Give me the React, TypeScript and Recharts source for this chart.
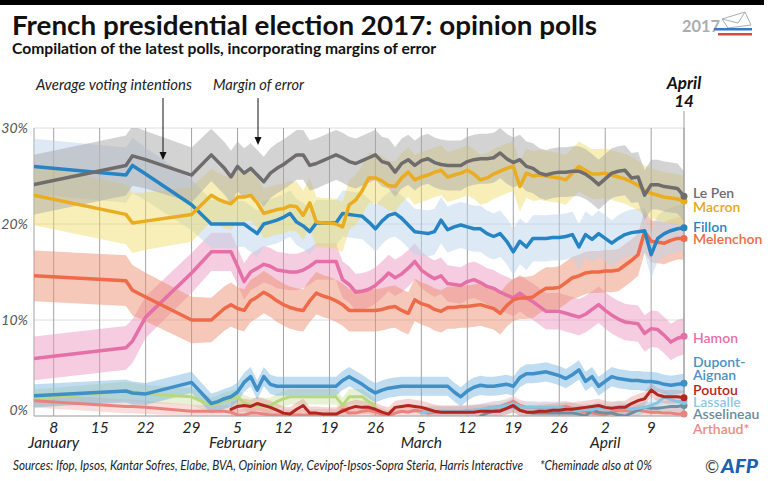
import React from "react";
import {
  ComposedChart,
  Line,
  Area,
  XAxis,
  YAxis,
  CartesianGrid,
  ReferenceLine,
  ReferenceDot,
} from "recharts";

// Day of year 2017 (1 = January 1)
const days = [
  5, 19, 20, 22, 29,
  32, 33, 34, 35, 36, 37, 38, 39, 40, 41,
  42, 43, 44, 45, 46, 47, 48, 49, 50, 51,
  52, 53, 54, 55, 56, 57, 58, 59, 60, 61,
  62, 63, 64, 65, 66, 67, 68, 69, 70, 71,
  72, 73, 74, 75, 76, 77, 78, 79, 80, 81,
  82, 83, 84, 85, 86, 87, 88, 89, 90, 91,
  92, 93, 94, 95, 96, 97, 98, 99, 100, 101,
  102, 103, 104,
];

// Relative width of the margin of error (fewer polls in January)
const errorScale = [
  1.2, 1.2, 1.2, 1.15, 1.1,
  1.05, 1.05, 1.05, 1.05, 1, 1, 1, 1, 1, 1,
];

const lePen = [
  24.1, 26.1, 27.1, 26.7, 25.1,
  27.2, 26.5, 25.8, 24.9, 26.0, 25.3, 25.8, 25.1, 24.4, 25.3,
  25.8, 26.2, 26.7, 27.2, 27.2, 26.1, 26.3, 26.6, 26.9, 27.2,
  26.9, 26.5, 26.3, 26.6, 26.9, 27.2, 26.5, 26.3, 25.4, 26.3,
  26.7, 26.1, 26.6, 26.8, 26.4, 26.2, 26.1, 26.1, 26.1, 26.5,
  26.7, 26.8, 26.8, 26.9, 27.4, 26.8, 26.4, 26.7, 26.0, 25.8,
  25.3, 25.1, 25.3, 25.4, 25.4, 25.5, 25.5, 25.2, 24.7, 24.1,
  24.7, 25.3, 25.5, 25.6, 24.8, 24.9, 23.0, 24.1, 24.1, 23.9,
  23.8, 23.7, 22.9,
];

const macron = [
  23.0, 21.0, 20.1, 20.3, 21.0,
  23.0, 22.6, 22.3, 22.1, 22.8, 22.8, 23.0, 22.2, 21.1, 21.3,
  21.5, 21.6, 21.9, 21.8, 20.9, 22.2, 20.2, 20.1, 20.1, 20.0,
  19.7, 22.0, 22.5, 23.5, 24.8, 24.8, 24.5, 24.0, 23.9, 24.8,
  25.4, 24.6, 24.9, 25.1, 25.4, 25.6, 24.9, 25.1, 25.3, 25.6,
  25.2, 24.6, 24.8, 25.2, 25.5, 25.8, 26.0, 23.9, 25.3, 25.0,
  25.1, 25.0, 24.9, 24.8, 24.6, 25.3, 26.0, 25.6, 25.2, 25.2,
  25.3, 25.1, 24.9, 24.7, 24.4, 24.0, 23.5, 23.2, 23.0, 22.8,
  22.7, 22.6, 22.4,
];

const fillon = [
  26.0, 25.1, 26.1, 25.2, 22.0,
  20.0, 20.0, 20.0, 20.0, 20.0, 20.0, 19.5, 19.0, 20.0, 20.2,
  20.4, 20.7, 21.1, 20.2, 19.8, 19.2, 20.1, 20.1, 20.1, 20.1,
  21.1, 21.0, 20.9, 20.8, 20.2, 19.5, 20.3, 20.9, 21.1, 20.6,
  19.9, 19.2, 19.1, 19.0, 19.2, 20.4, 19.4, 19.7, 19.9, 19.7,
  19.5, 19.5, 19.0, 18.7, 19.0, 18.2, 17.1, 18.2, 17.6, 18.5,
  18.5, 18.5, 18.6, 18.6, 18.7, 18.9, 17.6, 18.9, 18.4, 19.0,
  18.5, 18.0, 18.5, 18.9, 19.1, 19.2, 19.3, 16.8, 18.5, 19.0,
  19.3, 19.5, 19.6,
];

const melenchon = [
  14.6, 14.1, 13.1, 12.4, 10.0,
  10.0, 10.6, 11.2, 11.6, 11.2, 11.0, 12.0, 12.4, 12.9, 12.5,
  12.0, 11.6, 11.3, 11.1, 11.0, 12.0, 12.8, 12.5, 12.3, 12.0,
  11.6, 11.0, 11.0, 11.0, 11.0, 11.0, 11.1, 11.3, 11.4, 11.0,
  10.7, 12.1, 11.7, 11.5, 11.1, 10.9, 11.3, 11.3, 11.4, 11.4,
  11.5, 11.6, 11.4, 11.2, 10.7, 11.5, 12.1, 12.3, 12.3, 12.4,
  12.9, 13.3, 13.3, 13.4, 13.9, 14.4, 14.6, 14.9, 15.0, 15.0,
  15.1, 15.1, 15.2, 15.7, 16.2, 16.8, 19.2, 18.2, 18.1, 18.0,
  18.3, 18.5, 18.5,
];

const hamon = [
  6.0, 7.1, 7.8, 10.3, 14.9,
  17.1, 17.1, 17.1, 17.1, 15.6, 14.0, 15.0, 15.4, 15.8, 15.6,
  15.2, 15.1, 15.0, 15.0, 15.2, 15.6, 16.1, 16.1, 16.1, 16.1,
  14.2, 13.7, 12.9, 13.0, 13.2, 13.6, 14.2, 14.9, 14.4, 14.8,
  15.4, 16.1, 15.2, 14.7, 14.3, 14.6, 13.8, 13.7, 13.6, 14.0,
  14.2, 13.9, 13.5, 13.3, 12.9, 12.6, 12.3, 12.8, 12.3, 11.9,
  11.4, 10.9, 10.9, 10.9, 10.7, 10.5, 10.3, 10.6, 11.1, 11.6,
  11.0, 10.5, 10.1, 9.8, 9.7, 9.6, 8.6, 9.1, 9.0, 8.4,
  7.7, 8.1, 8.3,
];

const dupontAignan = [
  2.1, 2.6, 2.4, 2.3, 3.5,
  1.3, 1.5, 1.8, 2.0, 2.5, 3.5, 4.1, 2.7, 4.1, 3.3,
  3.1, 3.1, 3.1, 3.1, 3.1, 3.1, 3.1, 3.1, 3.1, 3.1,
  3.7, 4.1, 3.7, 3.3, 2.8, 2.4, 2.7, 2.9, 3.0, 3.1,
  3.1, 3.1, 3.1, 3.1, 3.1, 3.1, 3.1, 2.5, 2.0, 2.6,
  3.0, 3.2, 3.1, 3.1, 3.2, 3.3, 3.1, 4.0, 4.4, 4.4,
  4.5, 4.6, 4.4, 4.2, 3.9, 4.3, 4.8, 3.6, 4.1, 3.1,
  3.6, 4.1, 3.9, 3.8, 3.7, 3.7, 3.6, 3.6, 3.5, 3.3,
  3.2, 3.3, 3.4,
];

// Jadot (green, withdrew in late February) – from day 5 to day 57
const jadot = [
  1.8, 2.6, 2.5, 2.3, 2.0,
  1.1, 1.3, 1.6, 1.8, 2.0, 1.4, 1.1, 1.1, 1.1, 1.1,
  1.5, 1.8, 2.0, 2.0, 2.0, 2.0, 2.0, 2.0, 2.0, 2.0,
  1.1, 2.0, 2.0, 2.0, 1.5, 1.0,
];

// Poutou – from day 35
const poutou = [
  0.7, 1.0, 1.1, 1.0, 1.3, 1.1, 0.9,
  0.6, 0.3, 0.2, 0.7, 1.1, 0.3, 0.3, 0.2, 0.2, 0.2,
  0.5, 0.8, 1.0, 0.9, 0.9, 0.7, 0.4, 0.2, 0.9, 1.0,
  1.1, 1.0, 0.9, 0.7, 0.5, 0.4, 0.4, 0.4, 0.4, 0.4,
  0.4, 0.5, 0.5, 0.5, 0.5, 0.8, 1.1, 0.6, 0.4, 0.4,
  0.5, 0.5, 0.6, 0.6, 0.7, 0.7, 0.8, 0.9, 1.0, 1.1,
  0.9, 0.8, 0.9, 0.9, 1.3, 1.6, 1.8, 2.7, 2.2, 2.0,
  2.0, 2.0, 1.9,
];

// Lassalle – from day 64
const lassalle = [
  0.3, 0.5, 0.5, 0.5, 0.5, 0.5, 0.5, 0.6,
  0.6, 0.7, 0.8, 0.9, 1.0, 1.1, 1.3, 1.0, 0.9, 0.9,
  0.9, 0.9, 0.9, 0.9, 0.8, 0.7, 0.6, 0.7, 0.6, 0.9,
  0.7, 0.8, 0.9, 0.8, 0.7, 0.8, 0.9, 1.1, 1.4, 2.0,
  1.7, 1.5, 1.5,
];

// Asselineau – from day 73
const asselineau = [
  0.0, 0.3, 0.5, 0.6, 0.8, 1.0, 0.6, 0.4, 0.3,
  0.3, 0.3, 0.3, 0.3, 0.3, 0.3, 0.2, 0.0, 0.6, 0.4,
  0.3, 0.3, 0.1, 0.0, 0.3, 0.6, 0.9, 0.8, 0.8, 0.9,
  1.0, 1.0, 1.1,
];

const arthaud = [
  1.6, 1.0, 1.0, 0.9, 0.5,
  0.5, 0.5, 0.5, 0.4, 0.1, 0.1, 0.3, 0.3, 0.2, 0.1,
  0.1, 0.1, 0.1, 0.1, 0.1, 0.1, 0.1, 0.1, 0.1, 0.1,
  0.7, 0.3, 0.3, 0.5, 0.6, 0.4, 0.2, 0.0, 0.3, 0.5,
  0.4, 0.6, 0.5, 0.3, 0.4, 0.4, 0.4, 0.4, 0.4, 0.4,
  0.6, 0.6, 0.8, 0.9, 1.0, 1.2, 1.5, 1.1, 0.9, 0.9,
  0.8, 0.9, 0.8, 0.9, 1.0, 0.8, 0.6, 0.4, 0.3, 0.2,
  0.1, 0.4, 0.6, 0.6, 0.5, 0.6, 0.5, 0.4, 0.4, 0.3,
  0.3, 0.2, 0.2,
];

const tickDays = [8, 15, 22, 29, 36, 43, 50, 57, 64, 71, 78, 85, 92, 99];
const tickLabels = ["8", "15", "22", "29", "5", "12", "19", "26", "5", "12", "19", "26", "2", "9"];
const monthTicks: Record<number, string> = { 8: "January", 36: "February", 64: "March", 92: "April" };
const yTicks = [0, 10, 20, 30];

type Series = {
  key: string;
  values: number[];
  startDay: number;
  margin: number;
  color: string;
  band: string;
  bandOpacity: number;
  width: number;
  label?: string[];
  labelColor?: string;
  labelDy?: number;
};

const series: Series[] = [
  { key: "jadot", values: jadot, startDay: 5, margin: 0.8, color: "#b9d87c", band: "#cfe4a8", bandOpacity: 0.5, width: 3 },
  { key: "arthaud", values: arthaud, startDay: 5, margin: 0.6, color: "#e9837d", band: "#f2b3af", bandOpacity: 0.45, width: 3, label: ["Arthaud*"], labelColor: "#ec8c86", labelDy: 20 },
  { key: "asselineau", values: asselineau, startDay: 73, margin: 0.6, color: "#6f8fa0", band: "#a9bcc6", bandOpacity: 0.4, width: 3, label: ["Asselineau"], labelColor: "#6a8b9d", labelDy: 14 },
  { key: "lassalle", values: lassalle, startDay: 64, margin: 0.6, color: "#86c5e3", band: "#b5dcef", bandOpacity: 0.4, width: 3, label: ["Lassalle"], labelColor: "#8cc8e4", labelDy: 5 },
  { key: "poutou", values: poutou, startDay: 35, margin: 0.7, color: "#b3261e", band: "#dd8a85", bandOpacity: 0.35, width: 3, label: ["Poutou"], labelColor: "#b3261e", labelDy: -3 },
  { key: "dupont", values: dupontAignan, startDay: 5, margin: 1.0, color: "#3f8fc9", band: "#71b1dd", bandOpacity: 0.45, width: 3.5, label: ["Dupont-", "Aignan"], labelColor: "#4a90c4", labelDy: -16 },
  { key: "hamon", values: hamon, startDay: 5, margin: 1.9, color: "#e56fa7", band: "#ed97bf", bandOpacity: 0.48, width: 3.5, label: ["Hamon"], labelColor: "#e56fa7", labelDy: 7 },
  { key: "melenchon", values: melenchon, startDay: 5, margin: 2.2, color: "#ee6a48", band: "#ed8b6c", bandOpacity: 0.48, width: 3.5, label: ["Melenchon"], labelColor: "#ee6a48", labelDy: 6 },
  { key: "fillon", values: fillon, startDay: 5, margin: 2.4, color: "#2585c4", band: "#bbd3eb", bandOpacity: 0.5, width: 3.5, label: ["Fillon"], labelColor: "#2585c4", labelDy: 4 },
  { key: "macron", values: macron, startDay: 5, margin: 2.6, color: "#e9ad1f", band: "#efd95f", bandOpacity: 0.45, width: 3.5, label: ["Macron"], labelColor: "#e6a817", labelDy: 11 },
  { key: "lepen", values: lePen, startDay: 5, margin: 2.6, color: "#6f6c6e", band: "#a9a7aa", bandOpacity: 0.5, width: 3.5, label: ["Le Pen"], labelColor: "#6f6c6e", labelDy: 2 },
];

const data = days.map((day, i) => {
  const row: Record<string, any> = { day };
  const scale = i < errorScale.length ? errorScale[i] : 1;
  series.forEach((s) => {
    const idx = i - days.indexOf(s.startDay);
    const v = idx >= 0 && idx < s.values.length ? s.values[idx] : null;
    row[s.key] = v;
    row[s.key + "Band"] =
      v == null ? null : [Math.max(0, v - s.margin * scale), v + s.margin * scale];
  });
  return row;
});

const lastDay = days[days.length - 1];
const FONT = "Lato, 'Open Sans', sans-serif";

const makeEndMarker = (s: Series) => (props: any) => {
  const { cx, cy } = props;
  if (cx == null || cy == null) return <g />;
  return (
    <g>
      <circle cx={cx} cy={cy} r={3.5} fill={s.color} />
      {(s.label || []).map((t, j) => (
        <text
          key={j}
          x={cx + 9}
          y={cy + (s.labelDy || 0) + j * 13}
          fill={s.labelColor}
          fontFamily={FONT}
          fontSize={14}
          fontWeight={600}
        >
          {t}
        </text>
      ))}
    </g>
  );
};

const XTick = (props: any) => {
  const { x, y, payload } = props;
  const i = tickDays.indexOf(payload.value);
  const month = monthTicks[payload.value];
  return (
    <g>
      <text x={x} y={y + 17} textAnchor="middle" fontFamily={FONT} fontStyle="italic" fontSize={15.5} fill="#222">
        {tickLabels[i]}
      </text>
      {month && (
        <text x={x} y={y + 32} textAnchor="middle" fontFamily={FONT} fontStyle="italic" fontSize={15.5} fill="#222">
          {month}
        </text>
      )}
    </g>
  );
};

const YTick = (props: any) => {
  const { x, y, payload } = props;
  return (
    <text
      x={x - 6}
      y={payload.value === 0 ? y - 1 : y + 5}
      textAnchor="end"
      fontFamily={FONT}
      fontStyle="italic"
      fontSize={14}
      fill="#555"
    >
      {payload.value}%
    </text>
  );
};

const EndDateLabel = (props: any) => {
  const vb = props.viewBox || {};
  const x = vb.x;
  const y = vb.y;
  return (
    <g>
      <line x1={x} x2={x} y1={y - 17} y2={y} stroke="#9a9a9a" strokeWidth={1} />
      <text x={x} y={y - 39} textAnchor="middle" fontFamily={FONT} fontStyle="italic" fontWeight={700} fontSize={17} fill="#111">
        April
      </text>
      <text x={x} y={y - 21} textAnchor="middle" fontFamily={FONT} fontStyle="italic" fontWeight={700} fontSize={17} fill="#111">
        14
      </text>
    </g>
  );
};

export default function App() {
  return (
    <div style={{ position: "absolute", left: 0, top: 0, width: 768, height: 481, background: "#fff", overflow: "hidden" }}>
      <ComposedChart
        width={768}
        height={481}
        data={data}
        margin={{ top: 128, right: 84, bottom: 5, left: 4 }}
      >
        <CartesianGrid horizontal={true} vertical={false} stroke="#dcdcdc" strokeWidth={1} />
        <CartesianGrid horizontal={false} vertical={true} stroke="#a3a3a3" strokeWidth={1} />
        <XAxis
          dataKey="day"
          type="number"
          domain={[5, 104]}
          ticks={tickDays}
          interval={0}
          tick={<XTick />}
          tickLine={false}
          axisLine={false}
          tickSize={0}
          tickMargin={0}
          height={60}
          allowDataOverflow
        />
        <YAxis
          type="number"
          domain={[0, 30]}
          ticks={yTicks}
          tick={<YTick />}
          tickLine={false}
          axisLine={false}
          tickSize={0}
          tickMargin={0}
          width={30}
          allowDataOverflow
        />
        <ReferenceLine y={0} stroke="#a8a8a8" strokeWidth={1} />
        <ReferenceLine x={lastDay} stroke="#9a9a9a" strokeWidth={1} label={<EndDateLabel />} ifOverflow="visible" />
        {series.map((s) => (
          <Area
            key={s.key + "Band"}
            dataKey={s.key + "Band"}
            type="linear"
            stroke="none"
            fill={s.band}
            fillOpacity={s.bandOpacity}
            isAnimationActive={false}
            activeDot={false}
            dot={false}
          />
        ))}
        {series.map((s) => (
          <Line
            key={s.key}
            dataKey={s.key}
            type="linear"
            stroke={s.color}
            strokeWidth={s.width}
            strokeLinejoin="round"
            strokeLinecap="round"
            isAnimationActive={false}
            activeDot={false}
            dot={false}
          />
        ))}
        {series
          .filter((s) => s.label)
          .map((s) => (
            <ReferenceDot
              key={s.key + "End"}
              x={lastDay}
              y={s.values[s.values.length - 1]}
              r={3.5}
              ifOverflow="visible"
              shape={makeEndMarker(s)}
            />
          ))}
      </ComposedChart>

      <svg width={768} height={481} style={{ position: "absolute", left: 0, top: 0, pointerEvents: "none" }}>
        <rect x={0} y={0} width={764} height={5} fill="#000" />
        <text x={12} y={35} fontFamily={FONT} fontWeight={700} fontSize={26} fill="#111" textLength={585} lengthAdjust="spacingAndGlyphs">
          French presidential election 2017: opinion polls
        </text>
        <text x={12} y={54} fontFamily={FONT} fontWeight={700} fontSize={14.5} fill="#111" textLength={424} lengthAdjust="spacingAndGlyphs">
          Compilation of the latest polls, incorporating margins of error
        </text>
        <text x={36} y={90} fontFamily={FONT} fontStyle="italic" fontSize={15} fill="#222" textLength={156} lengthAdjust="spacingAndGlyphs">
          Average voting intentions
        </text>
        <text x={213} y={90} fontFamily={FONT} fontStyle="italic" fontSize={15} fill="#222" textLength={91} lengthAdjust="spacingAndGlyphs">
          Margin of error
        </text>
        <line x1={163} x2={163} y1={98} y2={153} stroke="#111" strokeWidth={1} />
        <polygon points="159.5,152 166.5,152 163,160" fill="#111" />
        <line x1={258} x2={258} y1={98} y2={138} stroke="#111" strokeWidth={1} />
        <polygon points="254.5,137 261.5,137 258,145" fill="#111" />

        {/* 2017 logo */}
        <text x={682} y={32} fontFamily={FONT} fontWeight={700} fontSize={17} fill="#a9aeb4" textLength={38} lengthAdjust="spacingAndGlyphs">
          2017
        </text>
        <polygon points="722,19 745,12 751,25 728,28" fill="none" stroke="#a9aeb4" strokeWidth={1} />
        <polyline points="722,19 738,23 745,12" fill="none" stroke="#a9aeb4" strokeWidth={1} />
        <rect x={714} y={28} width={38} height={2.5} fill="#3a78c2" />
        <rect x={718} y={33} width={34} height={2.5} fill="#e0463f" />

        <text x={13} y={470} fontFamily={FONT} fontStyle="italic" fontSize={12.5} fill="#222" textLength={510} lengthAdjust="spacingAndGlyphs">
          Sources: Ifop, Ipsos, Kantar Sofres, Elabe, BVA, Opinion Way, Cevipof-Ipsos-Sopra Steria, Harris Interactive
        </text>
        <text x={540} y={470} fontFamily={FONT} fontStyle="italic" fontSize={12.5} fill="#222" textLength={112} lengthAdjust="spacingAndGlyphs">
          *Cheminade also at 0%
        </text>
        <text x={705} y={473} fontFamily={FONT} fontSize={17} fill="#444">
          ©
        </text>
        <text x={721} y={473} fontFamily={FONT} fontStyle="italic" fontWeight={900} fontSize={19} fill="#1d5fb0" textLength={37} lengthAdjust="spacingAndGlyphs">
          AFP
        </text>
      </svg>
    </div>
  );
}
